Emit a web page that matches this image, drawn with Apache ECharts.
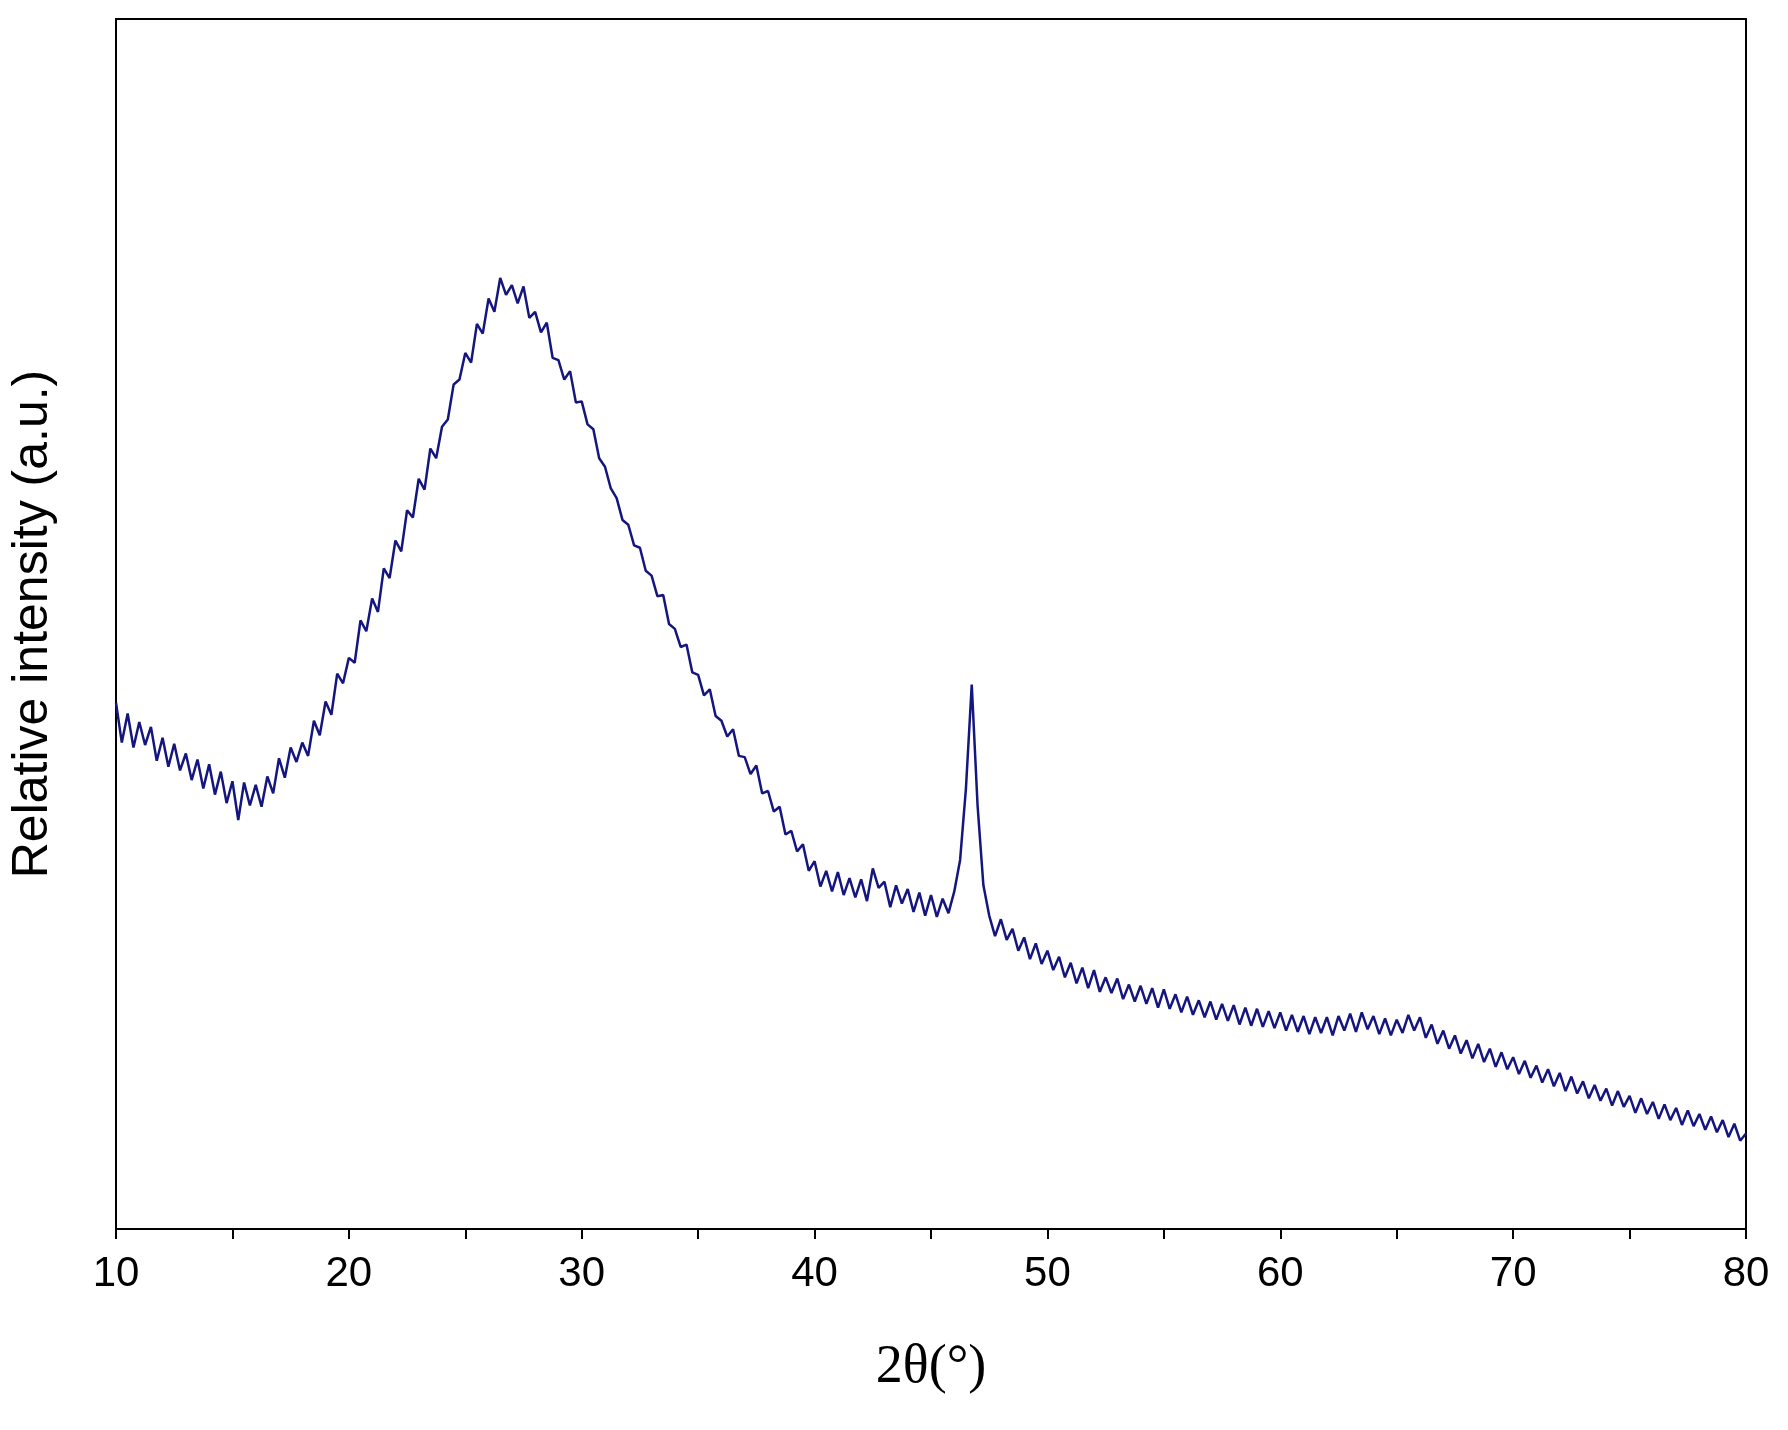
<!DOCTYPE html>
<html>
<head>
<meta charset="utf-8">
<script src="https://cdn.jsdelivr.net/npm/echarts@6/dist/echarts.min.js"></script>
<style>html,body{margin:0;padding:0;background:#fff}#chart{width:1788px;height:1430px}</style>
</head>
<body>
<div id="chart"></div>
<script>
// 2-theta from 10 to 80 in 0.25 steps
const thetaStart = 10;
const thetaStep = 0.25;
const intensity = [
  43.5, 40.2, 42.6, 39.8, 41.9, 40.0, 41.5, 38.7, 40.6, 38.2, 40.1, 37.9,
  39.3, 37.1, 38.8, 36.4, 38.4, 35.9, 37.8, 35.2, 37.0, 33.8, 36.9, 35.0,
  36.7, 34.9, 37.4, 36.0, 38.9, 37.3, 39.8, 38.6, 40.2, 39.1, 42.0, 40.8,
  43.6, 42.5, 45.9, 45.1, 47.2, 46.8, 50.3, 49.4, 52.1, 51.0, 54.6, 53.8,
  56.9, 56.0, 59.4, 58.8, 62.0, 61.1, 64.5, 63.7, 66.3, 66.9, 69.8, 70.2,
  72.4, 71.6, 74.8, 74.0, 76.9, 75.8, 78.6, 77.2, 78.0, 76.5, 77.9, 75.3,
  75.8, 74.1, 74.9, 72.0, 71.8, 70.2, 70.9, 68.3, 68.4, 66.5, 66.1, 63.7,
  63.0, 61.2, 60.4, 58.6, 58.2, 56.5, 56.3, 54.4, 54.0, 52.3, 52.4, 50.0,
  49.6, 48.1, 48.3, 46.0, 45.8, 44.1, 44.6, 42.4, 42.0, 40.7, 41.3, 39.1,
  39.0, 37.6, 38.3, 36.0, 36.2, 34.5, 34.9, 32.6, 32.9, 31.2, 31.8, 29.6,
  30.4, 28.3, 29.6, 27.9, 29.5, 27.6, 29.0, 27.4, 28.9, 27.1, 29.8, 28.2,
  28.7, 26.6, 28.4, 26.9, 28.1, 26.2, 27.8, 25.9, 27.6, 25.8, 27.3, 26.1,
  27.9, 30.5, 36.4, 45.0, 35.0, 28.4, 25.9, 24.2,
  25.6, 23.9, 24.8, 23.0, 24.1, 22.3, 23.6, 21.9, 23.0, 21.4, 22.5, 20.8,
  22.0, 20.3, 21.6, 19.9, 21.4, 19.6, 20.8, 19.5, 20.7, 19.0, 20.2, 18.8,
  20.1, 18.6, 19.9, 18.3, 19.8, 18.2, 19.4, 17.9, 19.2, 17.7, 18.9, 17.5,
  18.8, 17.3, 18.6, 17.2, 18.5, 16.9, 18.3, 16.8, 18.2, 16.7, 18.0, 16.6,
  17.9, 16.4, 17.7, 16.3, 17.6, 16.1, 17.5, 16.2, 17.5, 16.0, 17.6, 16.4,
  17.8, 16.3, 17.9, 16.5, 17.6, 16.1, 17.4, 16.0, 17.3, 16.2, 17.7, 16.4,
  17.5, 15.8, 16.9, 15.3, 16.4, 14.9, 16.0, 14.5, 15.6, 14.1, 15.3, 13.8,
  14.9, 13.4, 14.6, 13.2, 14.2, 12.8, 13.9, 12.5, 13.5, 12.1, 13.2, 11.8,
  12.9, 11.4, 12.6, 11.2, 12.2, 10.8, 11.9, 10.6, 11.6, 10.2, 11.4, 10.1,
  11.0, 9.6, 10.8, 9.5, 10.5, 9.1, 10.3, 9.0, 10.0, 8.6, 9.8, 8.5,
  9.5, 8.2, 9.3, 8.0, 9.0, 7.6, 8.7, 7.3, 7.9
];
const xTicks = [10, 20, 30, 40, 50, 60, 70, 80];

const points = intensity.map((v, i) => [thetaStart + i * thetaStep, v]);

const chart = echarts.init(document.getElementById('chart'));
chart.setOption({
  animation: false,
  backgroundColor: '#fff',
  grid: { left: 111, right: 42, top: 19, bottom: 201, show: true, borderColor: '#000', borderWidth: 2 },
  xAxis: {
    type: 'value', min: 10, max: 80, interval: 5,
    name: '2θ(°)', nameLocation: 'middle', nameGap: 112,
    nameTextStyle: { fontFamily: 'Liberation Serif', fontSize: 54, color: '#000' },
    axisLine: { lineStyle: { color: '#000', width: 2 } },
    axisTick: { length: 10, lineStyle: { color: '#000', width: 2 } },
    axisLabel: {
      margin: 24, fontFamily: 'Liberation Sans', fontSize: 42, color: '#000',
      formatter: v => xTicks.includes(v) ? String(v) : ''
    },
    splitLine: { show: false }
  },
  yAxis: {
    type: 'value', min: 0, max: 100,
    name: 'Relative intensity (a.u.)', nameLocation: 'middle', nameGap: 58,
    nameTextStyle: { fontFamily: 'Liberation Sans', fontSize: 50, color: '#000' },
    axisLine: { show: true, lineStyle: { color: '#000', width: 2 } },
    axisTick: { show: false }, axisLabel: { show: false }, splitLine: { show: false }
  },
  series: [{
    type: 'line', data: points, symbol: 'none',
    lineStyle: { color: '#15157f', width: 2.5 }
  }]
});
</script>
</body>
</html>
